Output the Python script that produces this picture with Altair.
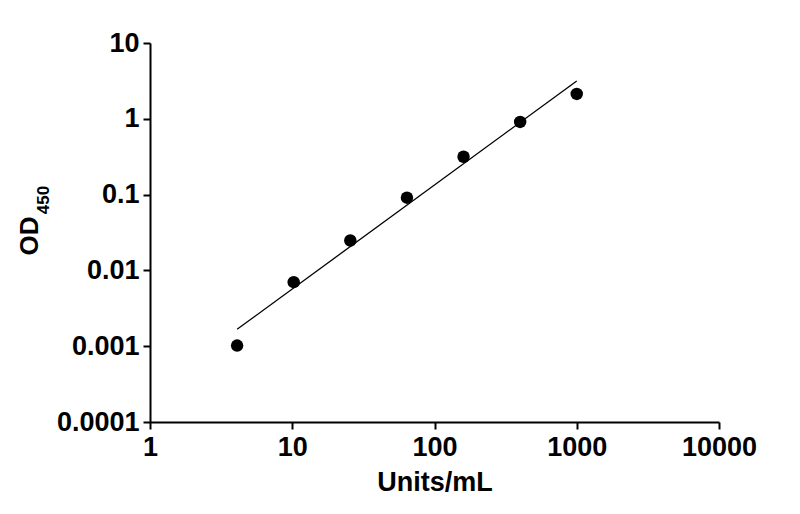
import pandas as pd
import altair as alt

# pontos medidos (leitura do gráfico)
unidades = [4.096, 10.24, 25.6, 64, 160, 400, 1000]
od450 = [0.00102, 0.0070, 0.0248, 0.091, 0.316, 0.91, 2.13]

# reta ajustada (extremos)
ajuste_x = [4.096, 1000]
ajuste_y = [0.00167, 3.16]

ticks_x = [1, 10, 100, 1000, 10000]
ticks_y = [0.0001, 0.001, 0.01, 0.1, 1, 10]

FONTE = "Liberation Sans"

pontos_df = pd.DataFrame({"x": unidades, "y": od450})
ajuste_df = pd.DataFrame({"x": ajuste_x, "y": ajuste_y})

eixo_x = alt.X(
    "x:Q",
    scale=alt.Scale(type="log", domain=[1, 10000], nice=False),
    axis=alt.Axis(
        values=ticks_x, format="~g", title="Units/mL", grid=False,
        titlePadding=9, labelPadding=5, titleFontSize=27,
    ),
)
eixo_y = alt.Y(
    "y:Q",
    scale=alt.Scale(type="log", domain=[0.0001, 10], nice=False),
    axis=alt.Axis(values=ticks_y, format="~g", title=None, grid=False,
                  labelPadding=4),
)

pontos = alt.Chart(pontos_df).mark_point(
    filled=True, color="black", opacity=1, size=155
).encode(x=eixo_x, y=eixo_y)

reta = alt.Chart(ajuste_df).mark_line(color="black", strokeWidth=1.3).encode(
    x=eixo_x, y=eixo_y
)

rotulo = pd.DataFrame({"t": [0]})
od = alt.Chart(rotulo).mark_text(
    text="OD", angle=270, font=FONTE, fontSize=26, fontWeight="bold",
    align="center", baseline="middle", color="black",
).encode(x=alt.value(-120), y=alt.value(193))
sub = alt.Chart(rotulo).mark_text(
    text="450", angle=270, font=FONTE, fontSize=17, fontWeight="bold",
    align="center", baseline="middle", color="black",
).encode(x=alt.value(-106), y=alt.value(157))

grafico = (
    alt.layer(reta, pontos, od, sub)
    .properties(
        width=569, height=379,
        autosize=alt.AutoSizeParams(type="none"),
        padding={"left": 142, "top": 35, "right": 70, "bottom": 85},
    )
    .configure_view(strokeWidth=0)
    .configure_axis(
        domainColor="black", domainWidth=2, tickColor="black", tickWidth=2,
        tickSize=7, labelFont=FONTE, labelFontSize=27, labelFontWeight="bold",
        labelColor="black", titleFont=FONTE, titleFontSize=27,
        titleFontWeight="bold", titleColor="black", labelFlush=False,
        labelOverlap=False,
    )
)

grafico.save("out.html", embed_options={"renderer": "svg", "actions": False})
